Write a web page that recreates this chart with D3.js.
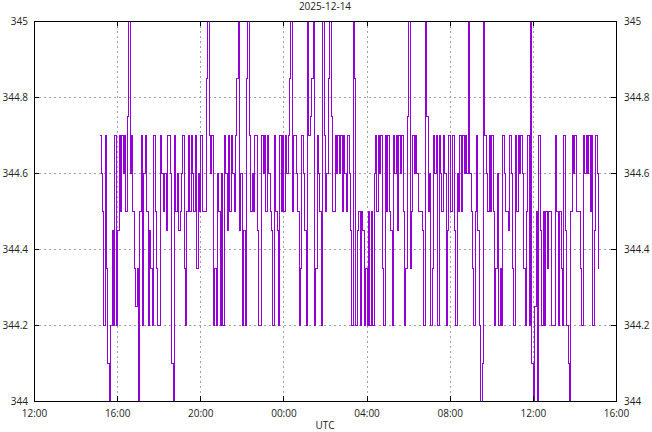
<!DOCTYPE html>
<html>
<head>
<meta charset="utf-8">
<script src="https://cdn.jsdelivr.net/npm/d3@7/dist/d3.min.js"></script>
<style>
  html, body { margin: 0; padding: 0; background: #fff; }
  svg text { font-family: "Open Sans", "Noto Sans", sans-serif; font-size: 10px; fill: #222; }
</style>
</head>
<body>
<svg id="chart" width="652" height="432"></svg>
<script>
// ---- data ----
const title = "2025-12-14";
const xLabel = "UTC";
const startTime = "2025-12-13T15:08:00Z";
const stepMinutes = 4;
const xDomain = ["2025-12-13T12:00:00Z", "2025-12-14T16:00:00Z"];
const xTickLabels = ["12:00", "16:00", "20:00", "00:00", "04:00", "08:00", "12:00", "16:00"];
const yTicks = [344, 344.2, 344.4, 344.6, 344.8, 345];
const yTickLabels = ["344", "344.2", "344.4", "344.6", "344.8", "345"];

const values1 = [
  344.7,344.6,344.5,344.2,344.7,344.35,344.1,344.0,344.2,344.45,
  344.2,344.7,344.2,344.45,344.7,344.5,344.7,344.6,344.7,344.5,
  344.75,345.0,344.6,344.7,344.5,344.35,344.25,344.35,344.0,344.5,
  344.7,344.2,344.6,344.7,344.5,344.2,344.45,344.35,344.2,344.7,
  344.5,344.35,344.2,344.2,344.7,344.6,344.5,344.6,344.45,344.7,
  344.7,344.6,344.1,344.0,344.7,344.5,344.6,344.45,344.5,344.6
];
const values2 = [
  344.7,344.35,344.2,344.5,344.7,344.5,344.7,344.6,344.5,344.7,
  344.35,344.6,344.5,344.7,344.5,344.5,344.5,344.85,345.0,344.7,
  344.6,344.7,344.2,344.35,344.2,344.6,344.5,344.2,344.6,344.2,
  344.7,344.6,344.45,344.7,344.5,344.7,344.6,344.5,344.7,344.85,
  345.0,344.45,344.6,344.2,344.45,344.2,344.85,345.0,344.7,344.5,
  344.6,344.5,344.7,344.7,344.45,344.2,344.2,344.7,344.6,344.7,
  344.5,344.7
];
const values3 = [
  344.6,344.5,344.45,344.2,344.7,344.5,344.45,344.2,344.7,344.5,
  344.7,344.5,344.7,344.6,344.7,344.85,345.0,344.5,344.7,344.7,
  344.6,344.5,344.2,344.35,344.7,344.6,344.45,344.2,345.0,344.7,
  344.75,344.85,345.0,344.2,344.35,344.7,344.6,344.5,344.2,345.0,
  344.7,344.5,344.6,344.85,345.0,344.75,344.5,344.5,344.7,344.6,
  344.7,344.6,344.7,344.5,344.7,344.6,344.5,344.7,344.6,344.45,
  344.2
];
const values4 = [
  345.0,344.85,344.2,344.45,344.5,344.2,344.5,344.45,344.2,344.35,
  344.2,344.5,344.2,344.5,344.2,344.6,344.7,344.5,344.7,344.6,
  344.7,344.35,344.2,344.7,344.5,344.7,344.5,344.45,344.2,344.7,
  344.6,344.7,344.45,344.7,344.6,344.7,344.5,344.2,344.35,344.75,
  345.0,344.35,344.5,344.7,344.6,344.7,344.6,344.5,344.5,344.5,
  344.45,344.2,345.0,344.75,344.5,344.6,344.2,344.35,344.7,344.6,
  344.7
];
const values5 = [
  344.2,344.7,344.6,344.5,344.7,344.6,344.2,344.45,344.7,344.5,
  344.5,344.7,344.45,344.2,344.6,344.5,344.7,344.5,344.7,344.6,
  344.7,344.6,345.0,344.6,344.5,344.35,344.2,344.5,344.7,344.45,
  344.2,344.0,344.1,345.0,344.7,344.6,344.5,344.7,344.5,344.7,
  344.5,344.2,344.35,344.6,344.2,344.35,344.2,344.7,344.6,344.5,
  344.5,344.45,344.7,344.6,344.35,344.2,344.7,344.5,344.7,344.6,
  344.7,344.6
];
const values6 = [
  344.35,344.2,344.5,344.7,344.2,345.0,344.1,344.0,344.25,344.5,
  344.0,344.7,344.45,344.2,344.5,344.2,344.5,344.35,344.5,344.5,
  344.2,344.2,344.2,344.7,344.5,344.2,344.5,344.35,344.2,344.7,
  344.45,344.2,344.1,344.0,344.5,344.7,344.6,344.7,344.5,344.5,
  344.5,344.35,344.2,344.7,344.6,344.7,344.6,344.7,344.5,344.7,
  344.2,344.45,344.7,344.6,344.35
];

// ---- build series ----
const allValues = [].concat(values1, values2, values3, values4, values5, values6);
const t0 = new Date(startTime).getTime();
const series = allValues.map((v, i) => ({ t: new Date(t0 + i * stepMinutes * 60000), v }));

// ---- layout ----
const svg = d3.select("#chart");
const W = 652, H = 432;
const m = { left: 34, right: 36, top: 21, bottom: 31 };
const iw = W - m.left - m.right, ih = H - m.top - m.bottom;

const x = d3.scaleUtc().domain(xDomain.map(d => new Date(d))).range([m.left, m.left + iw]);
const y = d3.scaleLinear().domain([344, 345]).range([m.top + ih, m.top]);
const xTicks = d3.utcHour.every(4).range(new Date(xDomain[0]), new Date(new Date(xDomain[1]).getTime() + 1));

// grid
const grid = svg.append("g").attr("stroke", "#a0a0a0").attr("stroke-width", 1).attr("stroke-dasharray", "2,3").attr("shape-rendering", "crispEdges");
grid.selectAll("line.gx").data(xTicks.slice(1, -1)).join("line")
  .attr("x1", d => Math.round(x(d)) + 0.5).attr("x2", d => Math.round(x(d)) + 0.5)
  .attr("y1", m.top).attr("y2", m.top + ih);
grid.selectAll("line.gy").data(yTicks.slice(1, -1)).join("line")
  .attr("x1", m.left).attr("x2", m.left + iw)
  .attr("y1", d => Math.round(y(d)) + 0.5).attr("y2", d => Math.round(y(d)) + 0.5);

// data line
const line = d3.line().x(d => Math.round(x(d.t)) + 0.5).y(d => Math.round(y(d.v)) + 0.5).curve(d3.curveStepAfter);
svg.append("path").datum(series)
  .attr("fill", "none").attr("stroke", "#9400d3").attr("stroke-width", 1)
  .attr("shape-rendering", "crispEdges")
  .attr("d", line);

// axes (inward ticks, gnuplot style)
const fmtX = (d, i) => xTickLabels[i];
const fmtY = (d, i) => yTickLabels[yTicks.indexOf(d)];
const axB = svg.append("g").attr("transform", `translate(0,${m.top + ih})`)
  .call(d3.axisBottom(x).tickValues(xTicks).tickFormat(fmtX).tickSizeInner(-5).tickSizeOuter(0).tickPadding(9));
const axT = svg.append("g").attr("transform", `translate(0,${m.top})`)
  .call(d3.axisTop(x).tickValues(xTicks).tickFormat("").tickSizeInner(-5).tickSizeOuter(0));
const axL = svg.append("g").attr("transform", `translate(${m.left},0)`)
  .call(d3.axisLeft(y).tickValues(yTicks).tickFormat(fmtY).tickSizeInner(-5).tickSizeOuter(0).tickPadding(6));
const axR = svg.append("g").attr("transform", `translate(${m.left + iw},0)`)
  .call(d3.axisRight(y).tickValues(yTicks).tickFormat(fmtY).tickSizeInner(-5).tickSizeOuter(0).tickPadding(8));
[axB, axT, axL, axR].forEach(a => {
  a.select(".domain").remove();
  a.selectAll("line").attr("stroke", "#000").attr("shape-rendering", "crispEdges");
  a.selectAll("text").attr("fill", "#222").style("font-size", "10px");
});

// frame
svg.append("rect").attr("x", m.left + 0.5).attr("y", m.top + 0.5).attr("width", iw).attr("height", ih)
  .attr("fill", "none").attr("stroke", "#000").attr("stroke-width", 1).attr("shape-rendering", "crispEdges");

// title and axis label
svg.append("text").attr("x", m.left + iw / 2).attr("y", 10).attr("text-anchor", "middle").text(title);
svg.append("text").attr("x", m.left + iw / 2).attr("y", 429).attr("text-anchor", "middle").text(xLabel);
</script>
</body>
</html>
